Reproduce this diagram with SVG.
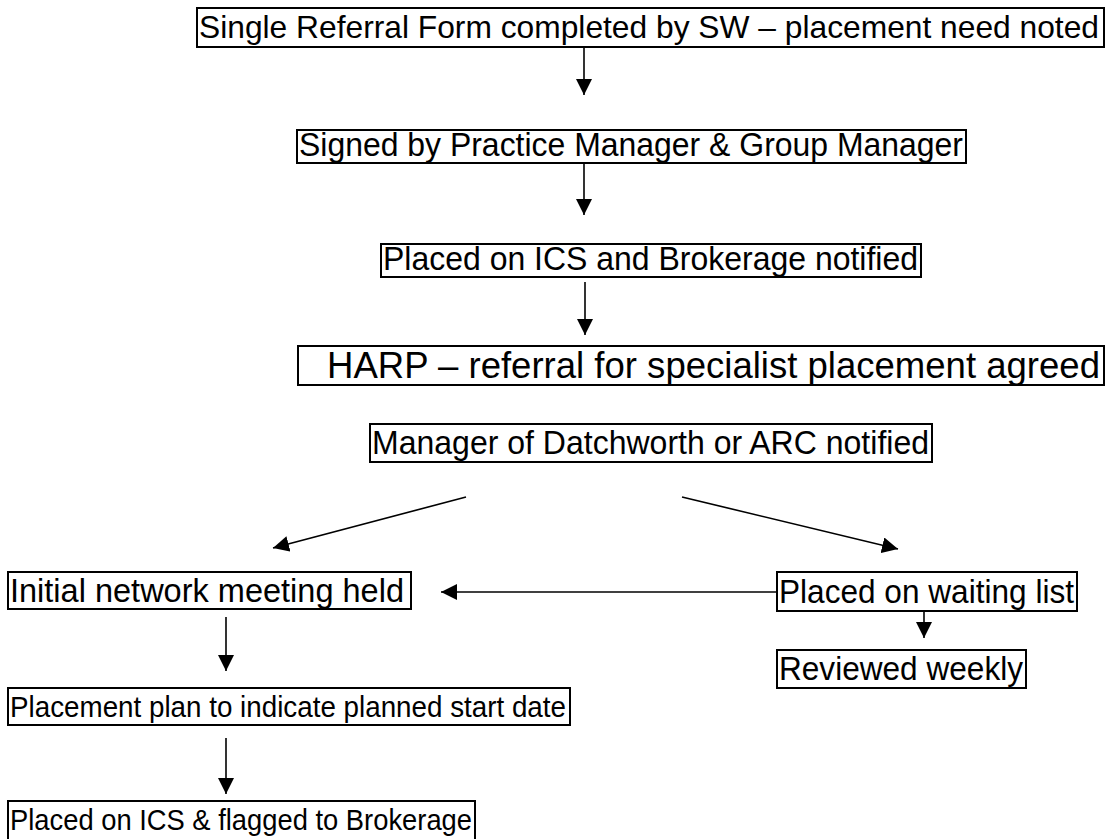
<svg xmlns="http://www.w3.org/2000/svg" width="1107" height="839" viewBox="0 0 1107 839">
  <style>
    .box { fill: #ffffff; stroke: #000000; stroke-width: 2; }
    .lbl { font-family: "Liberation Sans", Arial, sans-serif; font-size: 34px; fill: #000000; }
    .top { font-size: 32px; }
    .big { font-size: 36px; }
    .mid { font-size: 33px; }
    .small { font-size: 30px; }
    .conn { stroke: #000000; stroke-width: 1.6; fill: none; marker-end: url(#head); }
  </style>
  <defs>
    <marker id="head" markerUnits="userSpaceOnUse" markerWidth="16" markerHeight="16" viewBox="0 0 16 16" refX="16" refY="8" orient="auto">
      <path d="M0,0 L16,8 L0,16 Z" fill="#000000"/>
    </marker>
  </defs>
  <rect width="1107" height="839" fill="#ffffff"/>

  <g id="connectors">
    <line class="conn" x1="584" y1="48" x2="584" y2="95"/>
    <line class="conn" x1="584" y1="164" x2="584" y2="215"/>
    <line class="conn" x1="585" y1="282" x2="585" y2="335"/>
    <line class="conn" x1="466" y1="497" x2="273" y2="548"/>
    <line class="conn" x1="682" y1="497" x2="898" y2="549"/>
    <line class="conn" x1="777" y1="592" x2="441" y2="592"/>
    <line class="conn" x1="924" y1="612" x2="924" y2="638"/>
    <line class="conn" x1="226" y1="617" x2="226" y2="671"/>
    <line class="conn" x1="226" y1="738" x2="226" y2="794"/>
  </g>

  <g id="referral-form">
    <rect class="box" x="197" y="8" width="907" height="39"/>
    <text class="lbl top" x="199" y="38" textLength="900" lengthAdjust="spacingAndGlyphs">Single Referral Form completed by SW – placement need noted</text>
  </g>
  <g id="signed">
    <rect class="box" x="297" y="130" width="669" height="33"/>
    <text class="lbl" x="299" y="156" textLength="664" lengthAdjust="spacingAndGlyphs">Signed by Practice Manager &amp; Group Manager</text>
  </g>
  <g id="placed-ics">
    <rect class="box" x="381" y="244" width="540" height="33"/>
    <text class="lbl" x="383" y="270" textLength="535" lengthAdjust="spacingAndGlyphs">Placed on ICS and Brokerage notified</text>
  </g>
  <g id="harp">
    <rect class="box" x="298" y="346" width="806" height="39"/>
    <text class="lbl big" x="327" y="378" textLength="773" lengthAdjust="spacingAndGlyphs">HARP – referral for specialist placement agreed</text>
  </g>
  <g id="manager-notified">
    <rect class="box" x="370" y="424" width="562" height="38"/>
    <text class="lbl" x="372" y="454" textLength="557" lengthAdjust="spacingAndGlyphs">Manager of Datchworth or ARC notified</text>
  </g>
  <g id="network-meeting">
    <rect class="box" x="8" y="572" width="403" height="37"/>
    <text class="lbl mid" x="10" y="602" textLength="394" lengthAdjust="spacingAndGlyphs">Initial network meeting held</text>
  </g>
  <g id="waiting-list">
    <rect class="box" x="777" y="572" width="300" height="39"/>
    <text class="lbl mid" x="779" y="603" textLength="295" lengthAdjust="spacingAndGlyphs">Placed on waiting list</text>
  </g>
  <g id="reviewed">
    <rect class="box" x="777" y="650" width="249" height="38"/>
    <text class="lbl mid" x="779" y="680" textLength="244" lengthAdjust="spacingAndGlyphs">Reviewed weekly</text>
  </g>
  <g id="placement-plan">
    <rect class="box" x="8" y="688" width="562" height="37"/>
    <text class="lbl small" x="10" y="717" textLength="556" lengthAdjust="spacingAndGlyphs">Placement plan to indicate planned start date</text>
  </g>
  <g id="flagged">
    <rect class="box" x="8" y="801" width="467" height="42"/>
    <text class="lbl small" x="10" y="830" textLength="462" lengthAdjust="spacingAndGlyphs">Placed on ICS &amp; flagged to Brokerage</text>
  </g>
</svg>
